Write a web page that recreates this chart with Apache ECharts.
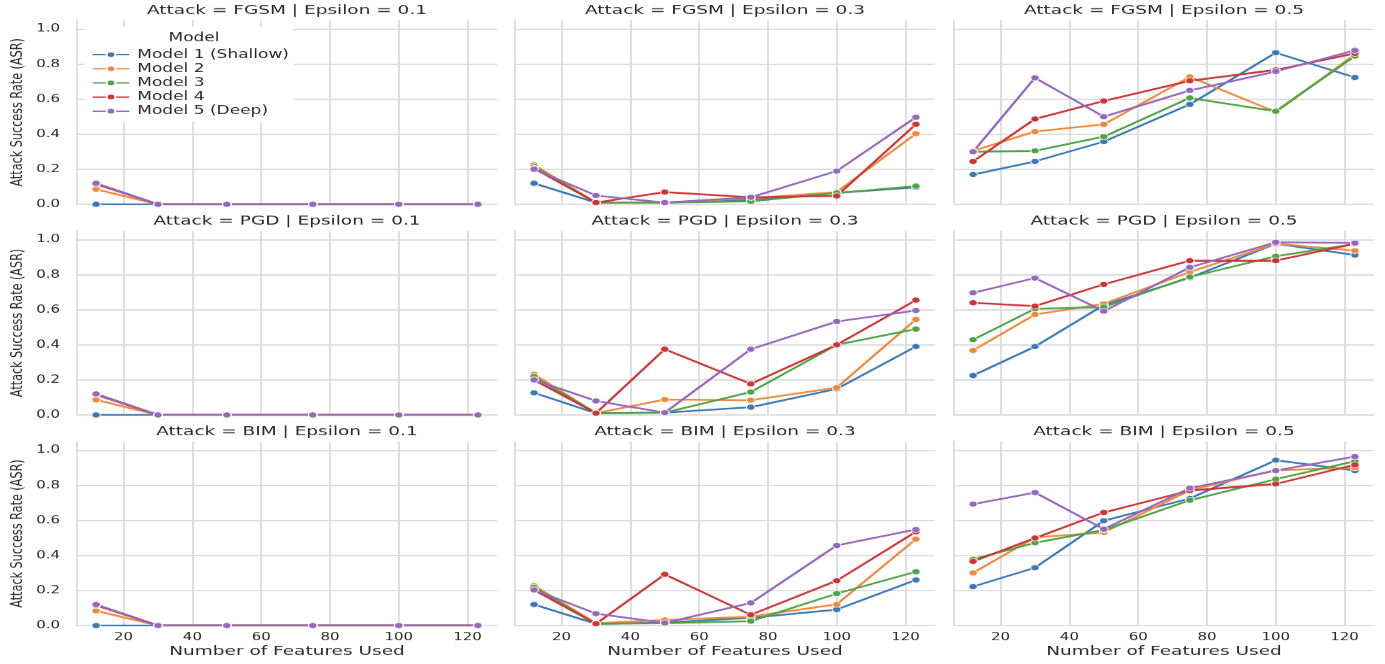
<!DOCTYPE html>
<html>
<head>
<meta charset="utf-8">
<script src="https://cdn.jsdelivr.net/npm/echarts@6/dist/echarts.min.js"></script>
<style>
	html, body { margin: 0; padding: 0; overflow: hidden; background: #fff; }
	/* the source figure was squashed vertically, so draw tall and squash the same way */
	#chart { width: 1385px; height: 949px; transform: scaleY(0.69968); transform-origin: 0 0; }
</style>
</head>
<body>
<div id="chart"></div>
<script>
const features	= [ 12, 30, 50, 75, 100, 123 ]
const models	= [ 'Model 1 (Shallow)', 'Model 2', 'Model 3', 'Model 4', 'Model 5 (Deep)' ]
const attacks	= [ 'FGSM', 'PGD', 'BIM' ]
const epsilons	= [ 0.1, 0.3, 0.5 ]
const xTicks	= [ 20, 40, 60, 80, 100, 120 ]
const yTicks	= [ 0, 0.2, 0.4, 0.6, 0.8, 1.0 ]
const colors	= [ '#3a78b6', '#f3883a', '#4ea444', '#cf3535', '#9468bf' ]

// one row per model, one value per feature count
const fgsm01 = [
	[ 0.000, 0, 0, 0, 0, 0 ],
	[ 0.086, 0, 0, 0, 0, 0 ],
	[ 0.118, 0, 0, 0, 0, 0 ],
	[ 0.115, 0, 0, 0, 0, 0 ],
	[ 0.120, 0, 0, 0, 0, 0 ]
]
const fgsm03 = [
	[ 0.120, 0.010, 0.010, 0.025, 0.065, 0.097 ],
	[ 0.225, 0.010, 0.010, 0.035, 0.070, 0.403 ],
	[ 0.215, 0.010, 0.010, 0.017, 0.065, 0.104 ],
	[ 0.205, 0.010, 0.070, 0.040, 0.048, 0.457 ],
	[ 0.200, 0.050, 0.010, 0.040, 0.190, 0.497 ]
]
const fgsm05 = [
	[ 0.170, 0.245, 0.358, 0.570, 0.865, 0.724 ],
	[ 0.305, 0.415, 0.456, 0.727, 0.527, 0.855 ],
	[ 0.300, 0.305, 0.386, 0.607, 0.531, 0.846 ],
	[ 0.245, 0.487, 0.590, 0.705, 0.767, 0.861 ],
	[ 0.300, 0.722, 0.500, 0.650, 0.758, 0.878 ]
]
const pgd01 = [
	[ 0.000, 0, 0, 0, 0, 0 ],
	[ 0.086, 0, 0, 0, 0, 0 ],
	[ 0.118, 0, 0, 0, 0, 0 ],
	[ 0.115, 0, 0, 0, 0, 0 ],
	[ 0.120, 0, 0, 0, 0, 0 ]
]
const pgd03 = [
	[ 0.126, 0.010, 0.013, 0.044, 0.149, 0.390 ],
	[ 0.232, 0.010, 0.088, 0.084, 0.156, 0.545 ],
	[ 0.219, 0.010, 0.013, 0.131, 0.400, 0.490 ],
	[ 0.200, 0.010, 0.375, 0.177, 0.400, 0.655 ],
	[ 0.200, 0.080, 0.013, 0.375, 0.533, 0.596 ]
]
const pgd05 = [
	[ 0.225, 0.390, 0.627, 0.783, 0.977, 0.912 ],
	[ 0.368, 0.573, 0.634, 0.815, 0.977, 0.937 ],
	[ 0.429, 0.606, 0.615, 0.787, 0.905, 0.975 ],
	[ 0.640, 0.621, 0.745, 0.880, 0.880, 0.977 ],
	[ 0.697, 0.781, 0.592, 0.842, 0.985, 0.981 ]
]
const bim01 = [
	[ 0.000, 0, 0, 0, 0, 0 ],
	[ 0.084, 0, 0, 0, 0, 0 ],
	[ 0.118, 0, 0, 0, 0, 0 ],
	[ 0.115, 0, 0, 0, 0, 0 ],
	[ 0.120, 0, 0, 0, 0, 0 ]
]
const bim03 = [
	[ 0.120, 0.010, 0.017, 0.044, 0.091, 0.260 ],
	[ 0.228, 0.013, 0.032, 0.051, 0.121, 0.493 ],
	[ 0.218, 0.010, 0.013, 0.025, 0.182, 0.307 ],
	[ 0.203, 0.010, 0.292, 0.061, 0.256, 0.535 ],
	[ 0.203, 0.068, 0.015, 0.129, 0.457, 0.548 ]
]
const bim05 = [
	[ 0.222, 0.330, 0.598, 0.725, 0.943, 0.884 ],
	[ 0.300, 0.503, 0.531, 0.772, 0.886, 0.900 ],
	[ 0.378, 0.472, 0.545, 0.715, 0.835, 0.937 ],
	[ 0.366, 0.499, 0.645, 0.770, 0.808, 0.917 ],
	[ 0.693, 0.759, 0.550, 0.784, 0.884, 0.964 ]
]

const panels = [
	[ fgsm01, fgsm03, fgsm05 ],
	[ pgd01, pgd03, pgd05 ],
	[ bim01, bim03, bim05 ]
]

const font = 'DejaVu Sans'
const ink = '#2a2a2a'
const gridColor = '#dcdcdc'
const lefts = [ 77, 515, 954 ]
const tops = [ 29, 330, 631 ]
const width = 420
const height = 263

const grid = [], xAxis = [], yAxis = [], title = [], series = []

attacks.forEach((attack, r) => epsilons.forEach((eps, c) => {
	const idx = r * 3 + c
	grid.push({ left: lefts[c], top: tops[r], width, height })
	title.push({
		text: `Attack = ${attack} | Epsilon = ${eps}`,
		left: lefts[c] + width / 2,
		top: tops[r] - 23,
		textAlign: 'center',
		padding: 0,
		textStyle: { fontFamily: font, fontSize: 18.5, fontWeight: 'normal', color: ink }
	})
	xAxis.push({
		type: 'value',
		gridIndex: idx,
		min: 6.45,
		max: 128.55,
		axisLine: { show: true, lineStyle: { color: gridColor, width: 1.8 } },
		axisTick: { show: false, customValues: xTicks },
		axisLabel: {
			show: r === 2,
			customValues: xTicks,
			margin: 10,
			fontFamily: font,
			fontSize: 15,
			color: ink
		},
		splitLine: { show: true, lineStyle: { color: gridColor, width: 1.8 } },
		name: r === 2 ? 'Number of Features Used' : '',
		nameLocation: 'middle',
		nameGap: 28,
		nameTextStyle: { fontFamily: font, fontSize: 18.5, color: ink }
	})
	yAxis.push({
		type: 'value',
		gridIndex: idx,
		min: 0,
		max: 1.05,
		axisLine: { show: true, onZero: false, lineStyle: { color: gridColor, width: 1.8 } },
		axisTick: { show: false, customValues: yTicks },
		axisLabel: {
			show: c === 0,
			customValues: yTicks,
			margin: 17,
			formatter: (v) => v.toFixed(1),
			fontFamily: font,
			fontSize: 15,
			color: ink
		},
		splitLine: { show: true, lineStyle: { color: gridColor, width: 1.8 } },
		name: c === 0 ? 'Attack Success Rate (ASR)' : '',
		nameLocation: 'middle',
		nameGap: 51,
		nameTextStyle: { fontFamily: font, fontSize: 16, color: ink }
	})
	panels[r][c].forEach((vals, m) => series.push({
		type: 'line',
		name: models[m],
		xAxisIndex: idx,
		yAxisIndex: idx,
		data: features.map((f, i) => [ f, vals[i] ]),
		symbol: 'circle',
		symbolSize: 8.5,
		itemStyle: { color: colors[m], borderColor: '#fff', borderWidth: 1 },
		lineStyle: { width: 2.6, color: colors[m] },
		emphasis: { disabled: true }
	}))
}))

// legend heading
title.push({
	text: 'Model',
	left: 194,
	top: 46,
	textAlign: 'center',
	padding: 0,
	textStyle: { fontFamily: font, fontSize: 17, fontWeight: 'normal', color: ink }
})

const chart = echarts.init(document.getElementById('chart'))
chart.setOption({
	backgroundColor: '#fff',
	animation: false,
	color: colors,
	title,
	grid,
	xAxis,
	yAxis,
	legend: {
		data: models,
		orient: 'vertical',
		left: 85,
		top: 38.6,
		padding: [ 31, 5, 6, 6.7 ],
		backgroundColor: '#fff',
		itemWidth: 36.6,
		itemHeight: 11,
		itemGap: 3.2,
		textStyle: { fontFamily: font, fontSize: 17, color: ink, padding: [ 0, 0, 0, 3 ] }
	},
	series
})
</script>
</body>
</html>
